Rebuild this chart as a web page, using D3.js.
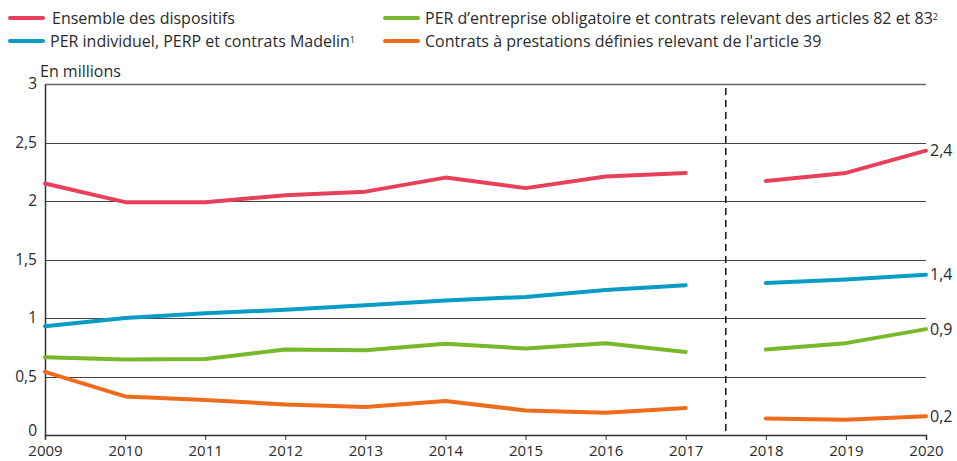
<!DOCTYPE html>
<html><head><meta charset="utf-8">
<script src="https://cdn.jsdelivr.net/npm/d3@7"></script>
<style>
body{margin:0;background:#fff;}
text{font-family:"Open Sans",Lato,sans-serif;fill:#2b2b2b;}
</style></head>
<body>
<svg id="c" width="957" height="461"></svg>
<script>
const years = [2009,2010,2011,2012,2013,2014,2015,2016,2017,2018,2019,2020];
const ensemble   = [2.15,1.99,1.99,2.05,2.08,2.20,2.11,2.21,2.24,2.17,2.24,2.43];
const perIndiv   = [0.93,1.00,1.04,1.07,1.11,1.15,1.18,1.24,1.28,1.30,1.33,1.37];
const perEntr    = [0.665,0.645,0.65,0.73,0.725,0.78,0.74,0.785,0.71,0.73,0.785,0.905];
const art39      = [0.54,0.33,0.30,0.26,0.24,0.29,0.21,0.19,0.23,0.14,0.13,0.16];
const endLabels  = ["2,4","1,4","0,9","0,2"];
const yTicks = [0,0.5,1,1.5,2,2.5,3];
const seriesNames = ["Ensemble des dispositifs","PER individuel, PERP et contrats Madelin","PER d’entreprise obligatoire et contrats relevant des articles 82 et 83","Contrats à prestations définies relevant de l'article 39"];
const seriesSup = ["","1","2",""];
const colors = ["#E8405A","#0A9CC4","#78B82A","#EE6C1E"];
const breakAfter = 2017;

const svg = d3.select("#c");
const x = d3.scaleLinear().domain([2009,2020]).range([45,926]);
const y = d3.scaleLinear().domain([0,3]).range([435,84]);
const fs = "16px";

// gridlines
svg.append("g").selectAll("line").data(yTicks.filter(d=>d>0)).join("line")
  .attr("x1",45).attr("x2",926).attr("y1",d=>Math.round(y(d))+0.5).attr("y2",d=>Math.round(y(d))+0.5)
  .attr("stroke",d=>d===3?"#666":"#444").attr("stroke-width",d=>d===3?1.5:1);

// y axis
const ya = svg.append("g").attr("transform","translate(45,0)")
  .call(d3.axisLeft(y).tickValues(yTicks).tickSize(0).tickPadding(8).tickFormat(d=>String(d).replace(".",",")));
ya.select(".domain").attr("stroke","#333").attr("stroke-width",1.5);
ya.selectAll("text").style("font-size","15.5px").attr("fill","#2b2b2b").attr("dy",d=>d===0?"0.5px":"4.5px");

// x axis
const xa = svg.append("g").attr("transform","translate(0,435)")
  .call(d3.axisBottom(x).tickValues(years).tickSize(5).tickPadding(5.5).tickFormat(d3.format("d")));
xa.select(".domain").attr("stroke","#333").attr("stroke-width",1.5);
xa.selectAll(".tick line").attr("stroke","#333");
xa.selectAll("text").style("font-size","15px").attr("fill","#2b2b2b");

// break line
svg.append("line").attr("x1",x(breakAfter+0.5)).attr("x2",x(breakAfter+0.5))
  .attr("y1",88).attr("y2",435).attr("stroke","#111").attr("stroke-width",1.5)
  .attr("stroke-dasharray","7,5");

svg.append("text").attr("x",40).attr("y",77).text("En millions").style("font-size",fs);

const all = [ensemble,perIndiv,perEntr,art39];
const line = d3.line().x(d=>x(d[0])).y(d=>y(d[1]));
all.forEach((vals,i)=>{
  const pts = years.map((yr,j)=>[yr,vals[j]]);
  const segs = [pts.filter(p=>p[0]<=breakAfter), pts.filter(p=>p[0]>breakAfter)];
  segs.forEach(s=>{
    svg.append("path").attr("d",line(s)).attr("fill","none")
      .attr("stroke",colors[i]).attr("stroke-width",4).attr("stroke-linecap","round").attr("stroke-linejoin","round");
  });
  const last = pts[pts.length-1];
  svg.append("text").attr("x",x(last[0])+4).attr("y",y(last[1])).attr("dy","0.35em")
    .text(endLabels[i]).style("font-size",fs);
});

// legend
const legPos = [[10,18],[10,41],[385,18],[385,41]];
seriesNames.forEach((n,i)=>{
  const [lx,ly]=legPos[i];
  svg.append("line").attr("x1",lx).attr("x2",lx+33).attr("y1",ly).attr("y2",ly)
    .attr("stroke",colors[i]).attr("stroke-width",4).attr("stroke-linecap","round");
  const t = svg.append("text").attr("x",lx+(i===0?42:40)).attr("y",ly).attr("dy","0.35em").style("font-size",fs).text(n);
  if(seriesSup[i]) t.append("tspan").attr("dy","-0.45em").style("font-size","9px").text(seriesSup[i]);
});
</script>
</body></html>
